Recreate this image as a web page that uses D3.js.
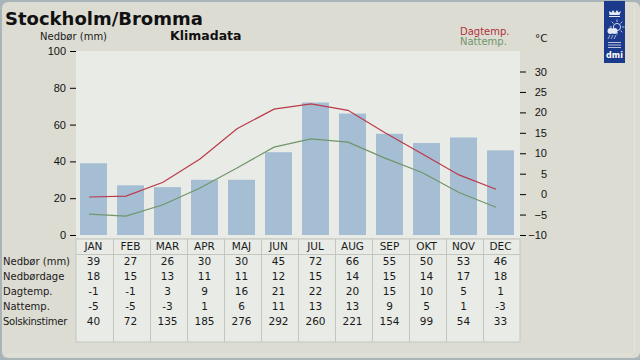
<!DOCTYPE html>
<html lang="en">
<head>
<meta charset="UTF-8">
<title>Stockholm/Bromma</title>
<script src="https://d3js.org/d3.v7.min.js"></script>
<style>
    html, body { margin: 0; padding: 0; background: #fff; }
    svg { display: block; font-family: "DejaVu Sans", sans-serif; }
    .tick-label { font-size: 11px; fill: #111; }
    .cell { font-size: 10.5px; fill: #1a1a1a; text-anchor: middle; }
    .row-label { font-size: 10px; fill: #1a1a1a; }
</style>
</head>
<body>
<svg id="chart" width="640" height="360"></svg>
<script>
const months = ['JAN', 'FEB', 'MAR', 'APR', 'MAJ', 'JUN', 'JUL', 'AUG', 'SEP', 'OKT', 'NOV', 'DEC'];
const precip = [39, 27, 26, 30, 30, 45, 72, 66, 55, 50, 53, 46];
const dayTemp = [-0.7, -0.5, 2.9, 8.6, 16, 20.8, 22.1, 20.5, 15, 9.9, 4.7, 1.2];
const nightTemp = [-4.9, -5.4, -2.6, 1.5, 6.4, 11.5, 13.5, 12.7, 8.8, 5.3, 0.4, -3.2];
const precipTicks = [0, 20, 40, 60, 80, 100];
const tempTicks = [-10, -5, 0, 5, 10, 15, 20, 25, 30];

const rowLabels = ['Nedbør (mm)', 'Nedbørdage', 'Dagtemp.', 'Nattemp.', 'Solskinstimer'];
const rainDays = [18, 15, 13, 11, 11, 12, 15, 14, 15, 14, 17, 18];
const dayRounded = [-1, -1, 3, 9, 16, 21, 22, 20, 15, 10, 5, 1];
const nightRounded = [-5, -5, -3, 1, 6, 11, 13, 13, 9, 5, 1, -3];
const sunHours = [40, 72, 135, 185, 276, 292, 260, 221, 154, 99, 54, 33];
const rowValues = [precip, rainDays, dayRounded, nightRounded, sunHours];

const svg = d3.select('#chart');

// page background and frame
svg.append('rect').attr('width', 640).attr('height', 360).attr('fill', '#a9b4b8');
svg.append('rect')
    .attr('x', 2).attr('y', 2).attr('width', 638).attr('height', 356)
    .attr('rx', 6).attr('fill', '#dcdcd3');
svg.append('path')
    .attr('d', 'M634.5 8V349a6 6 0 0 1-6 6H6')
    .attr('fill', 'none').attr('stroke', '#e6e6df');

const plotLeft = 76, plotRight = 520, plotTop = 51, plotBottom = 235;
const panel = '#e8ebe6', grid = '#c4c6c0';

const x = d3.scaleBand().domain(months).range([plotLeft, plotRight]).padding(0);
const yPrecip = d3.scaleLinear().domain([0, 100]).range([plotBottom, plotTop]);
const yTemp = d3.scaleLinear().domain([-10, 30]).range([plotBottom, 71.5]);
const barWidth = 27;
const colCenter = d => x(d) + 17.5;

svg.append('rect')
    .attr('x', plotLeft).attr('y', plotTop)
    .attr('width', plotRight - plotLeft).attr('height', plotBottom - plotTop + 3)
    .attr('fill', panel);

svg.selectAll('.bar')
    .data(months)
    .join('rect')
    .attr('class', 'bar')
    .attr('x', d => colCenter(d) - barWidth / 2)
    .attr('width', barWidth)
    .attr('y', (d, i) => yPrecip(precip[i]))
    .attr('height', (d, i) => plotBottom - yPrecip(precip[i]))
    .attr('fill', '#a5bed4');

// the temperature lines sit a little left of the bar centres in the original
const line = d3.line()
    .x((d, i) => colCenter(months[i]) - 4.5)
    .y(d => yTemp(d));

svg.append('path').attr('d', line(nightTemp))
    .attr('fill', 'none').attr('stroke', '#71956a').attr('stroke-width', 1.2);
svg.append('path').attr('d', line(dayTemp))
    .attr('fill', 'none').attr('stroke', '#bb3a4a').attr('stroke-width', 1.2);

// axes
const axisLeft = svg.append('g')
    .attr('transform', `translate(${plotLeft},0)`)
    .call(d3.axisLeft(yPrecip).tickValues(precipTicks).tickSize(6).tickPadding(4));
const axisRight = svg.append('g')
    .attr('transform', `translate(${plotRight},0)`)
    .call(d3.axisRight(yTemp).tickValues(tempTicks).tickSize(6));
[axisLeft, axisRight].forEach(a => {
    a.select('.domain').remove();
    a.selectAll('text').attr('class', 'tick-label').attr('font-family', null).attr('font-size', null);
});
axisRight.selectAll('text').attr('x', 27).attr('text-anchor', 'end');

// table
const tableTop = 239, tableBottom = 342;
svg.append('rect')
    .attr('x', plotLeft).attr('y', tableTop)
    .attr('width', plotRight - plotLeft).attr('height', tableBottom - tableTop)
    .attr('fill', panel).attr('stroke', grid);
svg.append('line')
    .attr('x1', plotLeft).attr('x2', plotRight).attr('y1', 254.5).attr('y2', 254.5)
    .attr('stroke', grid);
svg.selectAll('.col-line')
    .data(months.slice(1))
    .join('line')
    .attr('class', 'col-line')
    .attr('x1', d => x(d) + 0.5).attr('x2', d => x(d) + 0.5)
    .attr('y1', tableTop).attr('y2', tableBottom)
    .attr('stroke', grid);

const rowY = d3.scaleBand().domain(d3.range(6)).range([239, 329]);

svg.selectAll('.month')
    .data(months)
    .join('text')
    .attr('class', 'cell')
    .attr('x', colCenter)
    .attr('y', 250)
    .text(d => d);

rowValues.forEach((vals, r) => {
    const yPos = rowY(r + 1) + 11;
    svg.append('text').attr('class', 'row-label')
        .attr('x', 3).attr('y', yPos)
        .attr('letter-spacing', r === 4 ? -0.25 : 0)
        .text(rowLabels[r]);
    svg.selectAll(`.r${r}`)
        .data(vals)
        .join('text')
        .attr('class', `cell r${r}`)
        .attr('x', (d, i) => colCenter(months[i]))
        .attr('y', yPos)
        .text(d => d);
});

// titles
svg.append('text').attr('x', 5).attr('y', 25).attr('font-size', 18).attr('font-weight', 'bold').attr('fill', '#111').text('Stockholm/Bromma');
svg.append('text').attr('x', 170).attr('y', 40).attr('font-size', 12.5).attr('font-weight', 'bold').attr('fill', '#111').text('Klimadata');
svg.append('text').attr('x', 40).attr('y', 40).attr('font-size', 10).attr('fill', '#1a1a1a').text('Nedbør (mm)');
svg.append('text').attr('x', 535).attr('y', 42).attr('font-size', 10.5).attr('fill', '#1a1a1a').text('°C');
svg.append('text').attr('x', 460).attr('y', 35).attr('font-size', 10).attr('fill', '#b2303a').text('Dagtemp.');
svg.append('text').attr('x', 460).attr('y', 45).attr('font-size', 10).attr('fill', '#71956a').text('Nattemp.');

// dmi logo
const logo = svg.append('g');
const logoInk = '#e4e9f3';
logo.append('rect').attr('x', 604).attr('y', 1).attr('width', 21).attr('height', 62).attr('fill', '#1c3a8c');
// crown
logo.append('path').attr('d', 'M609 17h11v-1h-11zM609.5 15h10l1.5-4-2.5 1.5-1.5-2.5-2 3-2-3-1.5 2.5-2.5-1.5z').attr('fill', logoInk);
// sun rays, sun, cloud and rain
d3.range(0, 360, 45).forEach(a => {
    const r = a * Math.PI / 180;
    logo.append('line')
        .attr('x1', 617 + Math.cos(r) * 5).attr('y1', 27 + Math.sin(r) * 5)
        .attr('x2', 617 + Math.cos(r) * 7.5).attr('y2', 27 + Math.sin(r) * 7.5)
        .attr('stroke', logoInk).attr('stroke-width', 0.8);
});
logo.append('circle').attr('cx', 617).attr('cy', 27).attr('r', 3.6).attr('fill', 'none').attr('stroke', logoInk).attr('stroke-width', 0.9);
logo.append('circle').attr('cx', 610.5).attr('cy', 31).attr('r', 3).attr('fill', logoInk);
logo.append('circle').attr('cx', 614.5).attr('cy', 31).attr('r', 3).attr('fill', logoInk);
[609, 612, 615].forEach(px => logo.append('line')
    .attr('x1', px + 1).attr('x2', px - 1).attr('y1', 35).attr('y2', 39)
    .attr('stroke', logoInk).attr('stroke-width', 0.7));
// waves
[42.5, 45, 47.5].forEach(y => logo.append('line').attr('x1', 608).attr('x2', 621).attr('y1', y).attr('y2', y).attr('stroke', logoInk).attr('stroke-width', 0.8));
logo.append('text').attr('x', 614.5).attr('y', 58).attr('text-anchor', 'middle').attr('font-size', 8).attr('font-weight', 'bold').attr('fill', '#fff').text('dmi');
</script>
</body>
</html>
